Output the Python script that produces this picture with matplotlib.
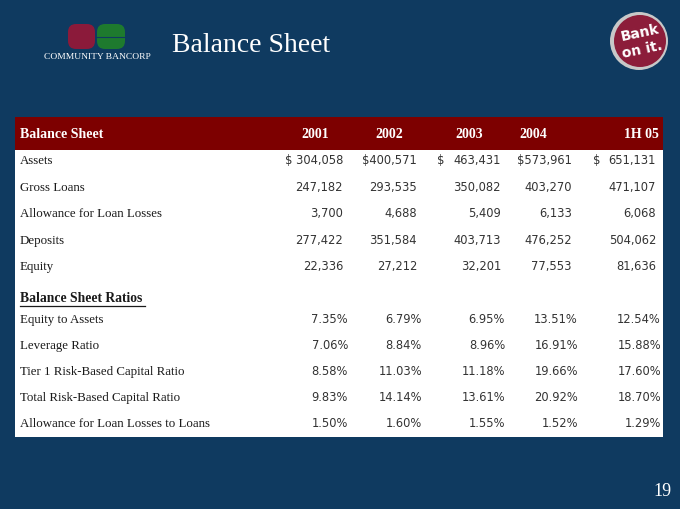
import matplotlib.pyplot as plt
from matplotlib.patches import Rectangle, FancyBboxPatch, Circle

years = ["2001", "2002", "2003", "2004", "1H 05"]
bs_labels = ["Assets", "Gross Loans", "Allowance for Loan Losses", "Deposits", "Equity"]
assets = [304058, 400571, 463431, 573961, 651131]
gross_loans = [247182, 293535, 350082, 403270, 471107]
allowance = [3700, 4688, 5409, 6133, 6068]
deposits = [277422, 351584, 403713, 476252, 504062]
equity = [22336, 27212, 32201, 77553, 81636]

ratio_labels = ["Equity to Assets", "Leverage Ratio", "Tier 1 Risk-Based Capital Ratio",
                "Total Risk-Based Capital Ratio", "Allowance for Loan Losses to Loans"]
equity_to_assets = [7.35, 6.79, 6.95, 13.51, 12.54]
leverage = [7.06, 8.84, 8.96, 16.91, 15.88]
tier1 = [8.58, 11.03, 11.18, 19.66, 17.60]
total_rb = [9.83, 14.14, 13.61, 20.92, 18.70]
allow_to_loans = [1.50, 1.60, 1.55, 1.52, 1.29]

NAVY = "#0f3a60"
MAROON = "#7d0000"

fig = plt.figure(figsize=(6.8, 5.1), dpi=100)
fig.patch.set_facecolor(NAVY)
ax = fig.add_axes([0, 0, 1, 1])
ax.set_xlim(0, 680)
ax.set_ylim(510, 0)
ax.axis("off")

serif = "Liberation Serif"
sans = "DejaVu Sans"

# logo
ax.add_patch(FancyBboxPatch((68, 25), 27, 25, boxstyle="round,pad=0,rounding_size=8",
                            fc="#8b1a3a", ec="none"))
ax.add_patch(FancyBboxPatch((97, 25), 28, 25, boxstyle="round,pad=0,rounding_size=8",
                            fc="#1e7a2e", ec="none"))
ax.plot([97, 125], [37.5, 37.5], color="#0f3a60", lw=0.8)
ax.text(97, 57, "COMMUNITY BANCORP", family=serif, fontsize=6.8, color="white",
        ha="center", va="center")
ax.text(172, 45, "Balance Sheet", family=serif, fontsize=20, color="white",
        ha="left", va="center")

# badge
ax.add_patch(Circle((639, 42), 29, fc="#c8c8c8", ec="none"))
ax.add_patch(Circle((640, 42), 26, fc="#8c1d3a", ec="none"))
ax.text(640, 33, "Bank", family="DejaVu Sans", fontsize=10, weight="bold",
        color="white", ha="center", va="center", rotation=12)
ax.text(642, 50, "on it.", family="DejaVu Sans", fontsize=10, weight="bold",
        color="white", ha="center", va="center", rotation=12)

# table panel
ax.add_patch(Rectangle((15, 118), 648, 320, fc="white", ec="none"))
ax.add_patch(Rectangle((15, 118), 648, 33, fc=MAROON, ec="none"))

hdr_x = [315, 389, 469, 533, 641]
ax.text(20, 135, "Balance Sheet", family=serif, fontsize=10, weight="bold",
        color="white", va="center")
for x, y in zip(hdr_x, years):
    ax.text(x, 135, y, family=serif, fontsize=10, weight="bold", color="white",
            ha="center", va="center")

num_right = [343, 417, 501, 572, 656]
pct_right = [348, 422, 505, 578, 661]
dollar_x = [None, None, 437, None, 593]
lab_txt = dict(fontsize=9.3, color="#1a1a1a", va="center")
num_txt = dict(fontsize=8.3, color="#333333", va="center")

rows_y = [161, 188, 214, 241, 267]
bs_series = [assets, gross_loans, allowance, deposits, equity]
for r, (lab, vals, y) in enumerate(zip(bs_labels, bs_series, rows_y)):
    ax.text(20, y, lab, family=serif, **lab_txt)
    for i, v in enumerate(vals):
        s = f"{v:,}"
        if r == 0:
            if i == 0:
                s = "$ " + s
            elif dollar_x[i] is None:
                s = "$" + s
            else:
                ax.text(dollar_x[i], y, "$", family=sans, ha="left", **num_txt)
        ax.text(num_right[i], y, s, family=sans, ha="right", **num_txt)

ax.text(20, 299, "Balance Sheet Ratios", family=serif, fontsize=9.8, weight="bold",
        color="#1a1a1a", va="center")
ax.plot([20, 145], [306.5, 306.5], color="#1a1a1a", lw=0.9)

ratio_y = [320, 346, 372, 398, 424]
ratio_series = [equity_to_assets, leverage, tier1, total_rb, allow_to_loans]
for lab, vals, y in zip(ratio_labels, ratio_series, ratio_y):
    ax.text(20, y, lab, family=serif, **lab_txt)
    for i, v in enumerate(vals):
        ax.text(pct_right[i], y, f"{v:.2f}%", family=sans, ha="right", **num_txt)

ax.text(672, 492, "19", family=serif, fontsize=13, color="white", ha="right", va="center")

fig.savefig("out.png", dpi=100, facecolor=NAVY)
